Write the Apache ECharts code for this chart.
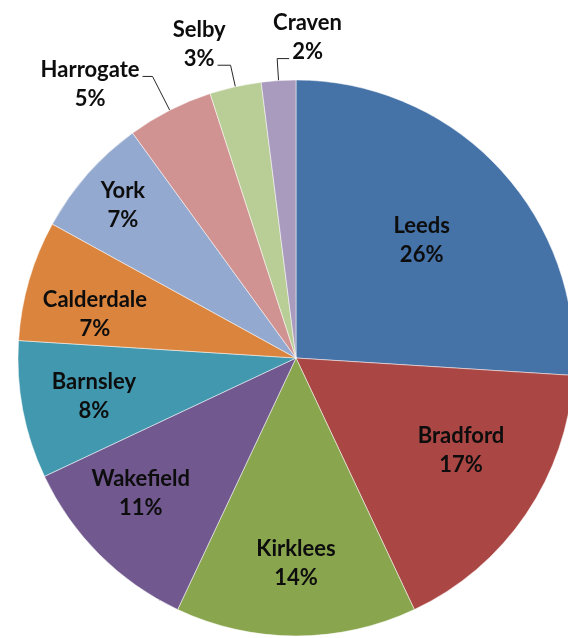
<!DOCTYPE html>
<html>
<head>
<meta charset="utf-8">
<script src="https://cdn.jsdelivr.net/npm/echarts@6/dist/echarts.min.js"></script>
<style>
  html, body { margin: 0; padding: 0; background: #fff; }
  #chart { width: 568px; height: 638px; }
</style>
</head>
<body>
<div id="chart"></div>
<script>
// share of total, clockwise from 12 o'clock
const districts = ['Leeds', 'Bradford', 'Kirklees', 'Wakefield', 'Barnsley', 'Calderdale', 'York', 'Harrogate', 'Selby', 'Craven']
const shares = [26, 17, 14, 11, 8, 7, 7, 5, 3, 2]
const colors = ['#4572A7', '#AA4643', '#89A54E', '#71588F', '#4198AF', '#DB843D', '#93A9CF', '#D19392', '#B9CD96', '#A99BBD']

const CENTER = [296, 358]
const RADIUS = 278
const FONT = 'bold 22px Lato'

// label placement tweaks (not data)
// anchor: 'block' = leader meets widest line, 'pct' = leader meets the % line
const outsideLine = {
  Harrogate: { length: 38, length2: 10, vAlign: 'middle', dy: 8, anchor: 'block' },
  Selby: { length: 22, length2: 13, vAlign: 'bottom', dy: 8, anchor: 'pct' },
  Craven: { length: 22, length2: 12, vAlign: 'bottom', dy: 8, anchor: 'pct', flip: true },
}
const innerLabelRadius = { Leeds: 0.62, Bradford: 0.68, York: 0.83 }
const innerLabelTurn = { Bradford: -5, Wakefield: 4, Calderdale: -4 } // degrees

const total = shares.reduce((a, b) => a + b, 0)
let acc = 0
const midAngles = shares.map((v) => {
  const a = (acc + v / 2) / total * Math.PI * 2
  acc += v
  return a
})

const ctx = document.createElement('canvas').getContext('2d')
ctx.font = FONT
const textWidth = (s) => ctx.measureText(s).width

const pieData = districts.map((name, i) => {
  const item = { name: name, value: shares[i], itemStyle: { color: colors[i] } }
  const o = outsideLine[name]
  if (o) {
    item.label = { position: 'outside' }
    item.labelLine = { show: true, length: o.length, length2: o.length2 }
  }
  return item
})

const chart = echarts.init(document.getElementById('chart'), null, { renderer: 'canvas' })

chart.setOption({
  animation: false,
  series: [
    {
      type: 'pie',
      center: CENTER,
      radius: RADIUS,
      startAngle: 90,
      clockwise: true,
      avoidLabelOverlap: false,
      data: pieData,
      itemStyle: {
        borderColor: 'rgba(255,255,255,0.5)',
        borderWidth: 1,
      },
      label: {
        show: true,
        position: 'inside',
        formatter: '{b}\n{d}%',
        color: '#0d0d0d',
        fontFamily: 'Lato',
        fontWeight: 'bold',
        fontSize: 22,
        lineHeight: 29,
      },
      labelLine: {
        lineStyle: { color: '#262626', width: 1 },
      },
      labelLayout: function (p) {
        const i = p.dataIndex
        const name = districts[i]
        const o = outsideLine[name]
        if (!o) {
          const frac = innerLabelRadius[name] || 0.74
          const a = midAngles[i] + (innerLabelTurn[name] || 0) * Math.PI / 180
          return {
            x: CENTER[0] + Math.sin(a) * frac * RADIUS,
            y: CENTER[1] - Math.cos(a) * frac * RADIUS,
            align: 'center',
            verticalAlign: 'middle',
          }
        }
        const pts = p.labelLinePoints
        if (!pts) return {}
        const bend = pts[1]
        let end = pts[2]
        if (o.flip) end = [2 * bend[0] - end[0], end[1]]
        const side = end[0] >= bend[0] ? 1 : -1
        const w = o.anchor === 'pct' ? textWidth(shares[i] + '%') : p.labelRect.width
        return {
          x: end[0] + side * (3 + w / 2),
          y: end[1] + o.dy,
          align: 'center',
          verticalAlign: o.vAlign,
          labelLinePoints: [pts[0], bend, end],
        }
      },
    },
  ],
})
</script>
</body>
</html>
